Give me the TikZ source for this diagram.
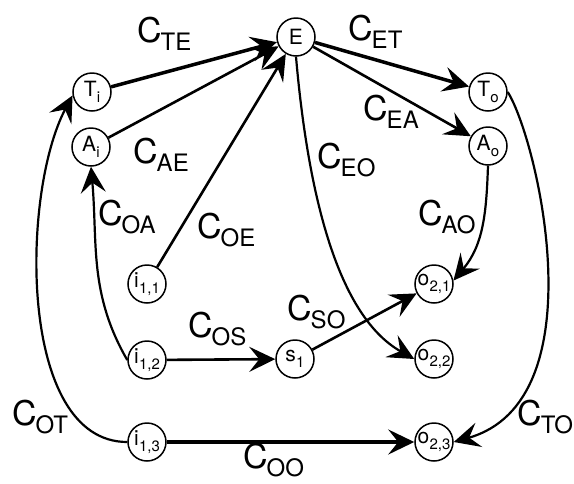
\documentclass[tikz,border=0pt]{standalone}
\usepackage{fontspec}
\setmainfont{TeX Gyre Heros}
\usetikzlibrary{arrows.meta}

% cost label: big C with a lowered subscript
\newcommand\clab[1]{C\kern-1pt\raisebox{-8.5pt}{\fontsize{24}{24}\selectfont #1}}
% vertex label: letter with a lowered subscript
\newcommand\vlab[2]{#1\kern0.2pt\raisebox{-5.5pt}{\fontsize{15}{15}\selectfont #2}}

\begin{document}
\begin{tikzpicture}[x=1pt,y=1pt,
  vert/.style={circle, draw, line width=1.5pt, minimum size=38pt, inner sep=0pt,
    font=\fontsize{21}{21}\selectfont},
  cost/.style={anchor=base west, inner sep=0pt, font=\fontsize{34}{34}\selectfont},
  tip/.style={-{Stealth[length=26pt,width=25pt,inset=10pt]}},
  edge/.style={tip, line width=2.6pt},
  heavy/.style={tip, line width=3.5pt},
  curved/.style={tip, line width=2.2pt},
]
\useasboundingbox (0,0) rectangle (574,-483);

% vertices
\node[vert] (E)   at (296,-37)  {E};
\node[vert] (Ti)  at (92,-92)   {\vlab{T}{i}};
\node[vert] (Ai)  at (91,-147)  {\vlab{A}{i}};
\node[vert] (To)  at (488,-92)  {\vlab{T}{o}};
\node[vert] (Ao)  at (488,-146) {\vlab{A}{o}};
\node[vert] (i11) at (147,-284) {\vlab{i}{1,1}};
\node[vert] (i12) at (147,-360) {\vlab{i}{1,2}};
\node[vert] (i13) at (147,-442) {\vlab{i}{1,3}};
\node[vert] (s1)  at (295,-359) {\vlab{s}{1}};
\node[vert] (o21) at (434,-284) {\vlab{o}{2,1}};
\node[vert] (o22) at (434,-359) {\vlab{o}{2,2}};
\node[vert] (o23) at (434,-442) {\vlab{o}{2,3}};

% straight connectors
\draw[heavy] (Ti) -- (E);
\draw[edge]  (Ai) -- (E);
\draw[edge]  (i11) -- (E);
\draw[heavy] (E) -- (To);
\draw[edge]  (E) -- (Ao);
\draw[edge]  (i12) -- (s1);
\draw[edge]  (s1) -- (o21);
\draw[heavy] (i13) -- (o23);

% curved connectors
\draw[curved] (i12.west) to[out=120, in=-85] (Ai.south);
\draw[curved] (i13.west) to[out=180, in=-118, looseness=0.8] (Ti.190);
\draw[curved] (E.south) .. controls +(11,-126) and +(-80,45) .. (o22.west);
\draw[curved] (Ao.south) to[out=-92, in=50] (o21.10);
\draw[curved] (To.east) .. controls +(30,-48) and +(145,41) .. (o23.east);

% costs
\node[cost] (cTE) at (137,-42)  {\clab{TE}};
\node[cost] (cAE) at (133,-163) {\clab{AE}};
\node[cost] (cET) at (348,-40)  {\clab{ET}};
\node[cost] (cEA) at (363,-120) {\clab{EA}};
\node[cost] (cEO) at (317,-168) {\clab{EO}};
\node[cost] (cOA) at (98,-225)  {\clab{OA}};
\node[cost] (cOE) at (197,-238) {\clab{OE}};
\node[cost] (cAO) at (418,-225) {\clab{AO}};
\node[cost] (cSO) at (287,-320) {\clab{SO}};
\node[cost] (cOS) at (188,-337) {\clab{OS}};
\node[cost] (cOT) at (12,-425)  {\clab{OT}};
\node[cost] (cOO) at (243,-468) {\clab{OO}};
\node[cost] (cTO) at (517,-425) {\clab{TO}};
\end{tikzpicture}
\end{document}
